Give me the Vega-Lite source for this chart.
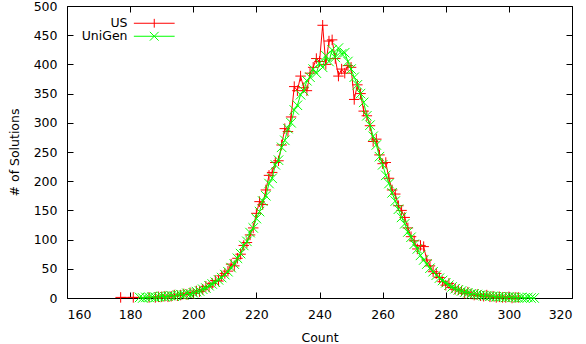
{
  "$schema": "https://vega.github.io/schema/vega-lite/v6.json",
  "width": 505,
  "height": 292,
  "autosize": {"type": "none"},
  "padding": {"left": 67, "top": 6, "right": 14, "bottom": 46},
  "background": "white",
  "datasets": {
    "us": [
      {"count":177,"n":1},{"count":181,"n":1},{"count":186,"n":1},{"count":188,"n":1},{"count":189,"n":2},{"count":190,"n":2},{"count":191,"n":3},{"count":192,"n":2},{"count":193,"n":3},{"count":194,"n":5},{"count":195,"n":4},{"count":196,"n":5},{"count":197,"n":7},{"count":198,"n":6},{"count":199,"n":9},{"count":200,"n":8},
      {"count":201,"n":12},{"count":202,"n":11},{"count":203,"n":15},{"count":204,"n":20},{"count":205,"n":19},{"count":206,"n":25},{"count":207,"n":30},{"count":208,"n":29},{"count":209,"n":38},{"count":210,"n":42},
      {"count":211,"n":46},{"count":212,"n":58},{"count":213,"n":55},{"count":214,"n":68},{"count":215,"n":75},{"count":216,"n":90},{"count":217,"n":95},{"count":218,"n":108},{"count":219,"n":120},{"count":220,"n":145},
      {"count":221,"n":165},{"count":222,"n":160},{"count":223,"n":185},{"count":224,"n":210},{"count":225,"n":215},{"count":226,"n":232},{"count":227,"n":235},{"count":228,"n":262},{"count":229,"n":290},{"count":230,"n":285},
      {"count":231,"n":310},{"count":232,"n":362},{"count":233,"n":355},{"count":234,"n":380},{"count":235,"n":360},{"count":236,"n":355},{"count":237,"n":385},{"count":238,"n":395},{"count":239,"n":410},{"count":240,"n":405},
      {"count":241,"n":467},{"count":242,"n":400},{"count":243,"n":440},{"count":244,"n":442},{"count":245,"n":410},{"count":246,"n":380},{"count":247,"n":392},{"count":248,"n":385},{"count":249,"n":398},{"count":250,"n":395},
      {"count":251,"n":340},{"count":252,"n":365},{"count":253,"n":350},{"count":254,"n":320},{"count":255,"n":312},{"count":256,"n":295},{"count":257,"n":268},{"count":258,"n":272},{"count":259,"n":245},{"count":260,"n":230},
      {"count":261,"n":232},{"count":262,"n":205},{"count":263,"n":185},{"count":264,"n":178},{"count":265,"n":158},{"count":266,"n":150},{"count":267,"n":138},{"count":268,"n":120},{"count":269,"n":105},{"count":270,"n":98},
      {"count":271,"n":84},{"count":272,"n":90},{"count":273,"n":88},{"count":274,"n":65},{"count":275,"n":55},{"count":276,"n":45},{"count":277,"n":42},{"count":278,"n":35},{"count":279,"n":28},{"count":280,"n":22},
      {"count":281,"n":25},{"count":282,"n":18},{"count":283,"n":15},{"count":284,"n":14},{"count":285,"n":12},{"count":286,"n":8},{"count":287,"n":10},{"count":288,"n":7},{"count":289,"n":5},{"count":290,"n":6},
      {"count":291,"n":4},{"count":292,"n":3},{"count":293,"n":5},{"count":294,"n":2},{"count":295,"n":3},{"count":296,"n":1},{"count":297,"n":2},{"count":298,"n":1},{"count":299,"n":1},{"count":300,"n":2},
      {"count":301,"n":0},{"count":302,"n":1},{"count":303,"n":1}
    ],
    "unigen": [
      {"count":183,"n":1},{"count":184,"n":0},{"count":185,"n":1},{"count":186,"n":1},{"count":187,"n":2},{"count":188,"n":1},{"count":189,"n":2},{"count":190,"n":3},
      {"count":191,"n":2},{"count":192,"n":3},{"count":193,"n":4},{"count":194,"n":3},{"count":195,"n":5},{"count":196,"n":6},{"count":197,"n":5},{"count":198,"n":8},{"count":199,"n":7},{"count":200,"n":9},
      {"count":201,"n":11},{"count":202,"n":12},{"count":203,"n":15},{"count":204,"n":17},{"count":205,"n":21},{"count":206,"n":24},{"count":207,"n":27},{"count":208,"n":31},{"count":209,"n":35},{"count":210,"n":40},
      {"count":211,"n":45},{"count":212,"n":52},{"count":213,"n":58},{"count":214,"n":68},{"count":215,"n":76},{"count":216,"n":90},{"count":217,"n":97},{"count":218,"n":112},{"count":219,"n":120},{"count":220,"n":136},
      {"count":221,"n":148},{"count":222,"n":166},{"count":223,"n":175},{"count":224,"n":196},{"count":225,"n":205},{"count":226,"n":228},{"count":227,"n":236},{"count":228,"n":258},{"count":229,"n":270},{"count":230,"n":290},
      {"count":231,"n":300},{"count":232,"n":322},{"count":233,"n":330},{"count":234,"n":348},{"count":235,"n":355},{"count":236,"n":372},{"count":237,"n":378},{"count":238,"n":392},{"count":239,"n":385},{"count":240,"n":402},
      {"count":241,"n":395},{"count":242,"n":415},{"count":243,"n":405},{"count":244,"n":425},{"count":245,"n":412},{"count":246,"n":428},{"count":247,"n":418},{"count":248,"n":420},{"count":249,"n":405},{"count":250,"n":392},
      {"count":251,"n":378},{"count":252,"n":365},{"count":253,"n":350},{"count":254,"n":335},{"count":255,"n":312},{"count":256,"n":296},{"count":257,"n":277},{"count":258,"n":262},{"count":259,"n":242},{"count":260,"n":228},
      {"count":261,"n":210},{"count":262,"n":196},{"count":263,"n":180},{"count":264,"n":166},{"count":265,"n":152},{"count":266,"n":138},{"count":267,"n":127},{"count":268,"n":113},{"count":269,"n":104},{"count":270,"n":92},
      {"count":271,"n":84},{"count":272,"n":73},{"count":273,"n":65},{"count":274,"n":58},{"count":275,"n":51},{"count":276,"n":45},{"count":277,"n":39},{"count":278,"n":34},{"count":279,"n":30},{"count":280,"n":26},
      {"count":281,"n":22},{"count":282,"n":19},{"count":283,"n":16},{"count":284,"n":14},{"count":285,"n":12},{"count":286,"n":10},{"count":287,"n":9},{"count":288,"n":7},{"count":289,"n":7},{"count":290,"n":6},
      {"count":291,"n":5},{"count":292,"n":4},{"count":293,"n":4},{"count":294,"n":3},{"count":295,"n":3},{"count":296,"n":2},{"count":297,"n":2},{"count":298,"n":2},{"count":299,"n":1},{"count":300,"n":2},
      {"count":301,"n":1},{"count":302,"n":1},{"count":303,"n":0},{"count":304,"n":1},{"count":305,"n":0},{"count":306,"n":1},{"count":307,"n":0},{"count":308,"n":0}
    ]
  },
  "resolve": {"axis": {"x": "independent", "y": "independent"}},
  "layer": [
    {
      "data": {"name": "us"},
      "transform": [{"calculate": "'US'", "as": "series"}],
      "mark": {"type": "line", "strokeWidth": 1, "clip": true},
      "encoding": {
        "x": {"field": "count", "type": "quantitative", "scale": {"domain": [160, 320], "nice": false, "zero": false},
              "axis": {"orient": "bottom", "title": "Count", "values": [160,180,200,220,240,260,280,300,320]}},
        "y": {"field": "n", "type": "quantitative", "scale": {"domain": [0, 500], "nice": false},
              "axis": {"orient": "left", "title": "# of Solutions", "values": [0,50,100,150,200,250,300,350,400,450,500]}},
        "color": {"field": "series", "type": "nominal", "scale": {"domain": ["US", "UniGen"], "range": ["#ff0000", "#00ff00"]},
          "legend": {
            "title": null,
            "orient": "none", "legendX": 81, "legendY": 11, "padding": 0,
            "symbolSize": 64, "symbolStrokeWidth": 1, "symbolFillColor": "transparent",
            "labelAlign": "right", "labelOffset": -33, "rowPadding": -3.5,
            "labelFontSize": 12.5, "labelFont": "DejaVu Sans", "labelColor": "black",
            "encode": {"symbols": {"update": {"shape": {"signal": "datum.value === 'US' ? 'M-5.1,0L5.1,0M0,-1.1L0,1.1' : 'M-5.1,0L5.1,0M-1.1,-1.1L1.1,1.1M-1.1,1.1L1.1,-1.1'"}, "fill": {"value": "transparent"}}}}
          }}
      }
    },
    {
      "data": {"name": "us"},
      "transform": [{"calculate": "'US'", "as": "series"}],
      "mark": {"type": "point", "shape": "M-1,0L1,0M0,-1L0,1", "size": 110, "filled": false, "strokeWidth": 1, "opacity": 1},
      "encoding": {
        "x": {"field": "count", "type": "quantitative", "axis": {"orient": "top", "labels": false, "title": null, "values": [160,180,200,220,240,260,280,300,320]}},
        "y": {"field": "n", "type": "quantitative", "axis": {"orient": "right", "labels": false, "title": null, "values": [0,50,100,150,200,250,300,350,400,450,500]}},
        "color": {"field": "series", "type": "nominal"}
      }
    },
    {
      "data": {"name": "unigen"},
      "transform": [{"calculate": "'UniGen'", "as": "series"}],
      "mark": {"type": "line", "strokeWidth": 1},
      "encoding": {
        "x": {"field": "count", "type": "quantitative", "axis": null},
        "y": {"field": "n", "type": "quantitative", "axis": null},
        "color": {"field": "series", "type": "nominal"}
      }
    },
    {
      "data": {"name": "unigen"},
      "transform": [{"calculate": "'UniGen'", "as": "series"}],
      "mark": {"type": "point", "shape": "M-1,-1L1,1M-1,1L1,-1", "size": 90, "filled": false, "strokeWidth": 1, "opacity": 1},
      "encoding": {
        "x": {"field": "count", "type": "quantitative", "axis": null},
        "y": {"field": "n", "type": "quantitative", "axis": null},
        "color": {"field": "series", "type": "nominal"}
      }
    }
  ],
  "config": {
    "view": {"stroke": "black", "strokeWidth": 1},
    "font": "DejaVu Sans",
    "axis": {
      "grid": false, "domain": false, "tickSize": -6, "tickColor": "black", "tickWidth": 1,
      "labelFont": "DejaVu Sans", "labelFontSize": 12.5, "labelColor": "black", "labelPadding": 16,
      "titleFont": "DejaVu Sans", "titleFontSize": 12.5, "titleFontWeight": "normal", "titleColor": "black"
    },
    "axisBottom": {"titlePadding": 11},
    "axisLeft": {"titlePadding": 12}
  }
}
